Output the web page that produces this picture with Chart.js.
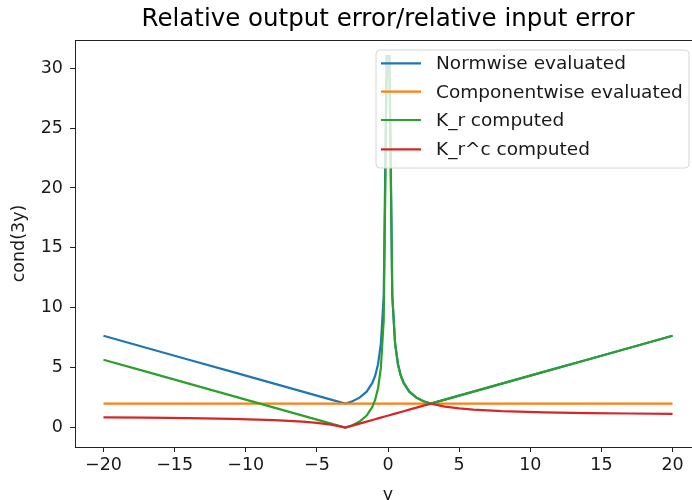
<!DOCTYPE html>
<html lang="en">
<head>
  <meta charset="UTF-8" />
  <title>Relative output error/relative input error</title>
  <script src="https://cdn.jsdelivr.net/npm/chart.js"></script>
  <style>
    html, body {
      margin: 0;
      padding: 0;
      overflow: hidden;
      background: #fff;
    }
    #wrap {
      width: 710px;
      height: 500px;
      position: relative;
    }
  </style>
</head>
<body>
  <div id="wrap"><canvas id="grafico"></canvas></div>

  <script>
    // valores
    const yVals = [-20, -17, -14, -11, -8, -6, -5, -4, -3, -2.5, -2, -1.5, -1.1, -0.9, -0.7, -0.5, -0.3, -0.1,
                   0.1, 0.3, 0.5, 0.7, 0.9, 1.1, 1.5, 2, 2.5, 3, 4, 5, 6, 8, 11, 14, 17, 20];
    const normwise = [7.667, 6.667, 5.667, 4.667, 3.667, 3.0, 2.667, 2.333, 2.0, 2.2, 2.5, 3.0, 3.727, 4.333, 5.286, 7.0, 11.0, 31.0,
                      31.0, 11.0, 7.0, 5.286, 4.333, 3.727, 3.0, 2.5, 2.2, 2.0, 2.333, 2.667, 3.0, 3.667, 4.667, 5.667, 6.667, 7.667];
    const componentwise = [2, 2, 2, 2, 2, 2, 2, 2, 2, 2, 2, 2, 2, 2, 2, 2, 2, 2,
                           2, 2, 2, 2, 2, 2, 2, 2, 2, 2, 2, 2, 2, 2, 2, 2, 2, 2];
    const kr = [5.667, 4.667, 3.667, 2.667, 1.667, 1.0, 0.667, 0.333, 0.0, 0.2, 0.5, 1.0, 1.727, 2.333, 3.286, 5.0, 9.0, 29.0,
                31.0, 11.0, 7.0, 5.286, 4.333, 3.727, 3.0, 2.5, 2.2, 2.0, 2.333, 2.667, 3.0, 3.667, 4.667, 5.667, 6.667, 7.667];
    const krc = [0.85, 0.824, 0.786, 0.727, 0.625, 0.5, 0.4, 0.25, 0.0, 0.167, 0.333, 0.5, 0.633, 0.7, 0.767, 0.833, 0.9, 0.967,
                 1.033, 1.1, 1.167, 1.233, 1.3, 1.367, 1.5, 1.667, 1.833, 2.0, 1.75, 1.6, 1.5, 1.375, 1.273, 1.214, 1.176, 1.15];

    const xTicks = [-20, -15, -10, -5, 0, 5, 10, 15, 20];
    const yTicks = [0, 5, 10, 15, 20, 25, 30];

    const fonte = 'DejaVu Sans';
    const corTexto = '#1a1a1a';
    const tamTick = 17.5;

    const pontos = vals => yVals.map((x, i) => ({ x: x, y: vals[i] }));
    const menos = v => (v < 0 ? '\u2212' + Math.abs(v) : String(v));

    const series = [
      { label: 'Normwise evaluated', data: pontos(normwise), borderColor: '#1f77b4', order: 4 },
      { label: 'Componentwise evaluated', data: pontos(componentwise), borderColor: '#ff7f0e', order: 3 },
      { label: 'K_r computed', data: pontos(kr), borderColor: '#2ca02c', order: 2 },
      { label: 'K_r^c computed', data: pontos(krc), borderColor: '#d62728', order: 1 }
    ];

    // moldura, título e legenda no estilo matplotlib
    const extras = {
      id: 'extras',
      afterDraw(chart) {
        const { ctx, chartArea: a } = chart;
        ctx.save();
        ctx.strokeStyle = '#222';
        ctx.lineWidth = 1;
        ctx.strokeRect(a.left + 0.5, a.top + 0.5, a.right - a.left, a.bottom - a.top);

        ctx.fillStyle = '#000';
        ctx.font = '24.5px "' + fonte + '"';
        ctx.textAlign = 'center';
        ctx.textBaseline = 'middle';
        ctx.fillText('Relative output error/relative input error', (a.left + a.right) / 2, 20);

        // legenda
        const bx = 376, by = 50, bw = 313, bh = 118, r = 4;
        ctx.beginPath();
        ctx.moveTo(bx + r, by);
        ctx.arcTo(bx + bw, by, bx + bw, by + bh, r);
        ctx.arcTo(bx + bw, by + bh, bx, by + bh, r);
        ctx.arcTo(bx, by + bh, bx, by, r);
        ctx.arcTo(bx, by, bx + bw, by, r);
        ctx.closePath();
        ctx.fillStyle = 'rgba(255,255,255,0.8)';
        ctx.fill();
        ctx.strokeStyle = '#d6d6d6';
        ctx.stroke();

        const linhas = [63.3, 91.7, 120, 149.3];
        ctx.font = '18.5px "' + fonte + '"';
        ctx.textAlign = 'left';
        chart.data.datasets.forEach((ds, i) => {
          ctx.strokeStyle = ds.borderColor;
          ctx.lineWidth = 2.2;
          ctx.beginPath();
          ctx.moveTo(381, linhas[i]);
          ctx.lineTo(421, linhas[i]);
          ctx.stroke();
          ctx.fillStyle = corTexto;
          ctx.fillText(ds.label, 436, linhas[i] + 1);
        });
        ctx.restore();
      }
    };

    new Chart(document.getElementById('grafico'), {
      type: 'line',
      data: {
        datasets: series.map(s => Object.assign({
          borderWidth: 2.2,
          pointRadius: 0,
          fill: false,
          tension: 0
        }, s))
      },
      options: {
        responsive: true,
        maintainAspectRatio: false,
        animation: false,
        events: [],
        layout: { padding: { top: 40, right: 9, left: 0, bottom: 0 } },
        plugins: {
          legend: { display: false },
          title: { display: false },
          tooltip: { enabled: false }
        },
        scales: {
          x: {
            type: 'linear',
            min: -22,
            max: 22,
            afterFit: s => { s.height = 53; },
            afterBuildTicks: s => { s.ticks = xTicks.map(v => ({ value: v })); },
            grid: { drawOnChartArea: false, drawTicks: true, tickLength: 5, tickColor: '#222' },
            border: { display: true, color: '#222' },
            ticks: {
              color: corTexto,
              font: { family: fonte, size: tamTick },
              padding: 3,
              maxRotation: 0,
              callback: v => menos(v)
            },
            title: {
              display: true,
              text: 'y',
              color: corTexto,
              font: { family: fonte, size: tamTick },
              padding: { top: 0, bottom: -6 }
            }
          },
          y: {
            type: 'linear',
            min: -1.62,
            max: 32.35,
            afterFit: s => { s.width = 75; },
            afterBuildTicks: s => { s.ticks = yTicks.map(v => ({ value: v })); },
            grid: { drawOnChartArea: false, drawTicks: true, tickLength: 5, tickColor: '#222' },
            border: { display: true, color: '#222' },
            ticks: {
              color: corTexto,
              font: { family: fonte, size: tamTick },
              padding: 7,
              callback: v => menos(v)
            },
            title: {
              display: true,
              text: 'cond(3y)',
              color: corTexto,
              font: { family: fonte, size: tamTick },
              padding: { top: 9, bottom: 0 }
            }
          }
        }
      },
      plugins: [extras]
    });
  </script>
</body>
</html>
